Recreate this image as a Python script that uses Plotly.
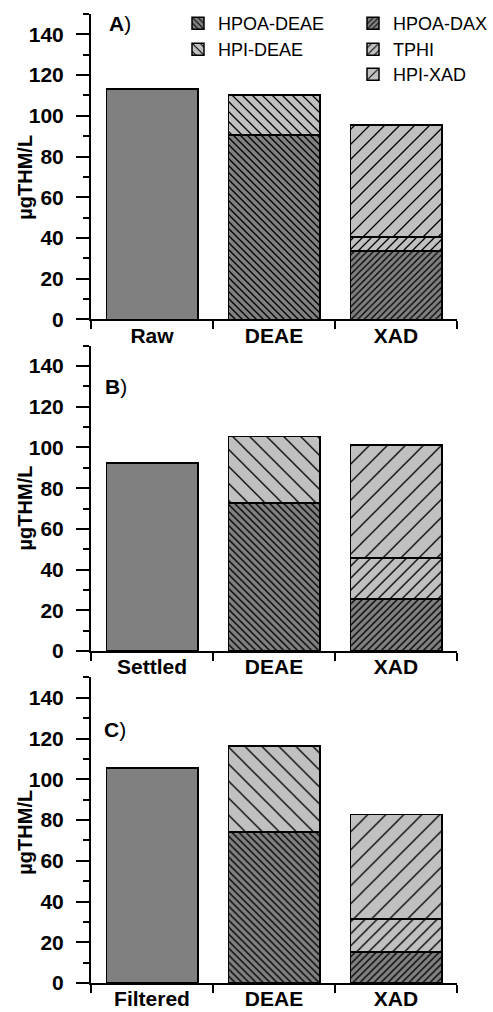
import plotly.graph_objects as go

# Trihalomethane formation potential of NOM fractions (µg THM / L)
panels = ["A", "B", "C"]
sources = ["Raw", "Settled", "Filtered"]
source_thm = [113.2, 92.5, 105.5]

# DEAE fractionation
hpoa_deae = [90.6, 72.8, 74.2]
hpi_deae = [19.6, 32.6, 42.1]

# XAD fractionation
hpoa_dax = [33.7, 25.6, 15.1]
tphi = [6.9, 20.0, 16.3]
hpi_xad = [54.9, 55.6, 51.3]

y_ticks = [0, 20, 40, 60, 80, 100, 120, 140]
y_title = "µgTHM/L"

DARK = "#808080"
LIGHT = "#c0c0c0"
FONT = "Arial, Liberation Sans, sans-serif"

# hatch spacing per panel (pixels) for each fraction
hatch = {
    "HPOA-DEAE": [7, 7, 7],
    "HPI-DEAE": [10, 17, 17],
    "HPOA-DAX": [6.5, 7, 7],
    "TPHI": [9, 12, 12],
    "HPI-XAD": [15, 18, 18],
}

def pattern(shape, spacing):
    size = spacing / 2 ** 0.5
    return dict(shape=shape, size=size, solidity=1.3 / size, fgcolor="black", fgopacity=1)

# plot area in pixels: left 91, right 457, top 14, bottom 983
W, H = 493, 1012
M_L, M_R, M_T, M_B = 91, 36, 14, 29
PW, PH = W - M_L - M_R, H - M_T - M_B

def px_x(px):
    return (px - M_L) / PW

def px_y(py):
    return 1 - (py - M_T) / PH

domains = [[0.6848, 1.0], [0.3427, 0.6576], [0.0, 0.3153]]
fig = go.Figure()
outline = dict(color="black", width=1.5)

# one legend per entry so each row/column sits where it should
legend_of = {"HPOA-DEAE": "legend", "HPI-DEAE": "legend2",
             "HPOA-DAX": "legend3", "TPHI": "legend4", "HPI-XAD": "legend5"}

for i in range(3):
    xa = "x" if i == 0 else f"x{i + 1}"
    ya = "y" if i == 0 else f"y{i + 1}"
    cats = [sources[i], "DEAE", "XAD"]
    first = i == 0

    fig.add_trace(go.Bar(x=[cats[0]], y=[source_thm[i]], marker=dict(color=DARK, line=outline),
                         xaxis=xa, yaxis=ya, showlegend=False))
    series = [
        ("DEAE", hpoa_deae, "HPOA-DEAE", DARK, "\\"),
        ("DEAE", hpi_deae, "HPI-DEAE", LIGHT, "\\"),
        ("XAD", hpoa_dax, "HPOA-DAX", DARK, "/"),
        ("XAD", tphi, "TPHI", LIGHT, "/"),
        ("XAD", hpi_xad, "HPI-XAD", LIGHT, "/"),
    ]
    for cat, vals, name, col, shp in series:
        fig.add_trace(go.Bar(x=[cat], y=[vals[i]], name=name,
                             marker=dict(color=col, line=outline, pattern=pattern(shp, hatch[name][i])),
                             xaxis=xa, yaxis=ya, showlegend=first, legend=legend_of[name]))

    xkey = "xaxis" if i == 0 else f"xaxis{i + 1}"
    ykey = "yaxis" if i == 0 else f"yaxis{i + 1}"
    fig.update_layout({
        xkey: dict(anchor=ya, domain=[0, 1], type="category", categoryorder="array", categoryarray=cats,
                   range=[-0.5, 2.5], showline=True, linecolor="black", linewidth=2, mirror=False,
                   ticks="outside", tickson="boundaries", ticklen=8, tickwidth=2, tickcolor="black",
                   tickfont=dict(family=FONT, size=21, color="black", weight="bold"),
                   ticklabelstandoff=-4,
                   showgrid=False, zeroline=False, fixedrange=True, automargin=False),
        ykey: dict(anchor=xa, domain=domains[i], range=[0, 150], tickvals=y_ticks,
                   showline=True, linecolor="black", linewidth=2,
                   ticks="outside", ticklen=13, tickwidth=2, tickcolor="black",
                   minor=dict(dtick=10, tick0=0, ticks="outside", ticklen=6, tickwidth=2, tickcolor="black"),
                   tickfont=dict(family=FONT, size=21, color="black", weight="bold"),
                   ticklabelstandoff=8,
                   showgrid=False, zeroline=False, fixedrange=True, automargin=False),
    })

# panel letters and rotated y titles
label_pos = [(0.044, 0.970), (0.033, 0.866), (0.030, 0.830)]
title_y = [0.464, 0.467, 0.492]
for i, p in enumerate(panels):
    xr = "x domain" if i == 0 else f"x{i + 1} domain"
    yr = "y domain" if i == 0 else f"y{i + 1} domain"
    fig.add_annotation(text=f"<b>{p}</b>)", xref=xr, yref=yr, x=label_pos[i][0], y=label_pos[i][1],
                       xanchor="left", yanchor="middle", showarrow=False,
                       font=dict(family=FONT, size=21, color="black"))
    fig.add_annotation(text=f"<b>{y_title}</b>", xref=xr, yref=yr, x=px_x(25), y=title_y[i],
                       textangle=-90, xanchor="center", yanchor="middle", showarrow=False,
                       font=dict(family=FONT, size=20, color="black"))

legend_style = dict(font=dict(family=FONT, size=18, color="black"), bgcolor="rgba(0,0,0,0)",
                    orientation="v", xanchor="left", yanchor="top",
                    itemclick=False, itemdoubleclick=False)
# (text left edge, row centre) in pixels for each entry
legend_px = {"legend": (218, 25), "legend2": (218, 51),
             "legend3": (393, 25), "legend4": (393, 51), "legend5": (393, 76)}
legends = {k: dict(x=px_x(tx - 40), y=px_y(cy - 20), **legend_style) for k, (tx, cy) in legend_px.items()}

fig.update_layout(
    width=W, height=H,
    margin=dict(l=M_L, r=M_R, t=M_T, b=M_B, autoexpand=False),
    paper_bgcolor="white", plot_bgcolor="white",
    barmode="stack", bargap=0.25,
    showlegend=True,
    **legends,
)

fig.write_html("out.html")
